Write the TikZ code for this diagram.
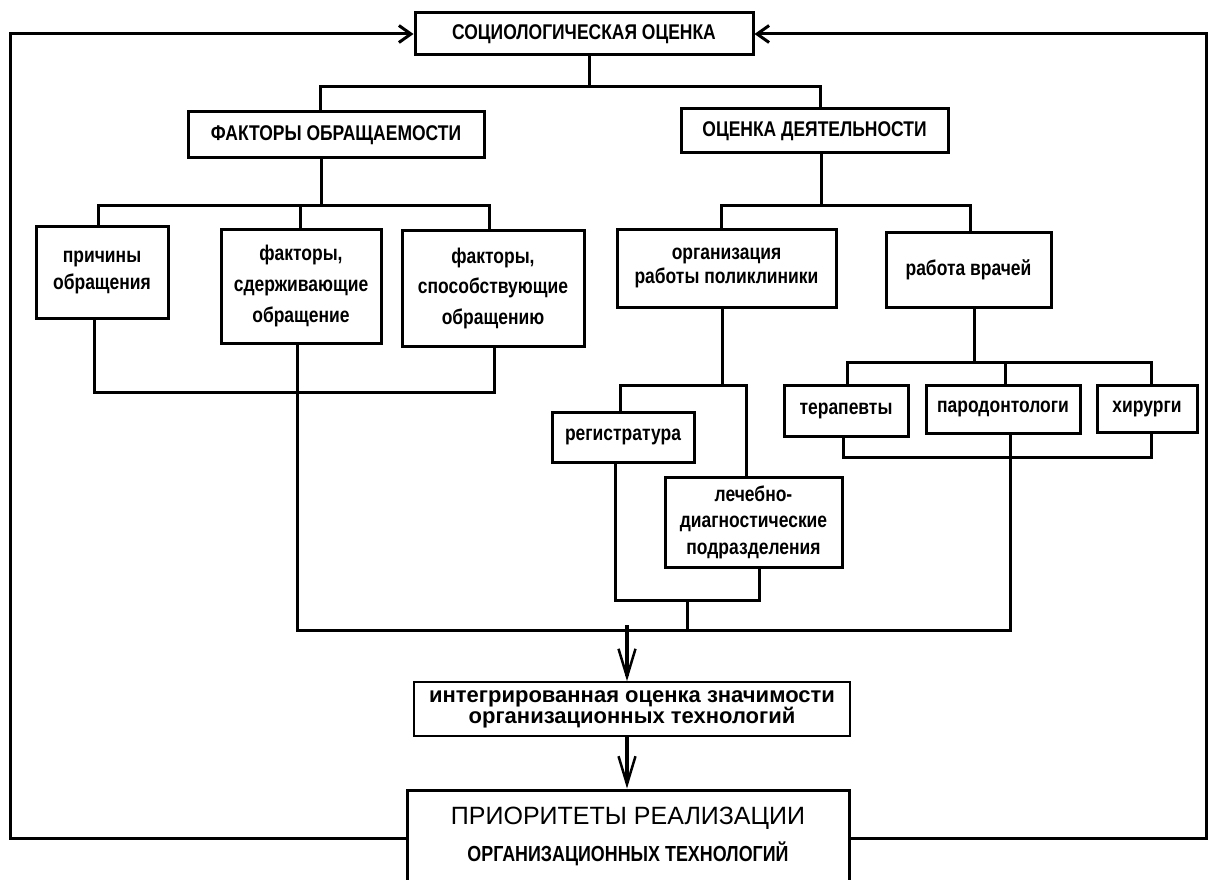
\documentclass[tikz,border=0pt]{standalone}
\usepackage{fontspec}
\setmainfont{Liberation Sans}
\newfontfamily\narrowfont[FakeStretch=0.82]{Liberation Sans}
\usetikzlibrary{arrows.meta}
\tikzset{
  bx/.style={draw, line width=3pt, inner sep=0pt, align=center,
    font=\narrowfont\bfseries\fontsize{21.3}{24}\selectfont},
  conn/.style={line width=3pt, line cap=rect},
  fbk/.style={line width=3pt, -{Straight Barb[length=12pt,width=17pt,line width=3pt]}},
  bigarr/.style={line width=4.5pt, -{Straight Barb[length=28pt,width=17pt,line width=2.5pt]}}
}
\begin{document}
\begin{tikzpicture}[x=1pt,y=-1pt]
\fill[white] (0,0) rectangle (1208,880);
\useasboundingbox (0,0) rectangle (1208,880);

% boxes
\node[bx, minimum width=338pt, minimum height=42pt] (top) at (584,34) {СОЦИОЛОГИЧЕСКАЯ ОЦЕНКА};
\node[bx, minimum width=296pt, minimum height=46pt] (fo) at (336,135) {ФАКТОРЫ ОБРАЩАЕМОСТИ};
\node[bx, minimum width=267pt, minimum height=44pt] (od) at (814.5,131) {ОЦЕНКА ДЕЯТЕЛЬНОСТИ};

\node[bx, minimum width=132pt, minimum height=92pt, font=\narrowfont\bfseries\fontsize{21.3}{27}\selectfont] (c1) at (102,272) {причины\\обращения};
\node[bx, minimum width=160pt, minimum height=114pt, font=\narrowfont\bfseries\fontsize{21.3}{31}\selectfont] (c2) at (301,286) {факторы,\\сдерживающие\\обращение};
\node[bx, minimum width=182pt, minimum height=116pt, font=\narrowfont\bfseries\fontsize{21.3}{30.5}\selectfont] (c3) at (493,288) {факторы,\\способствующие\\обращению};

\node[bx, minimum width=219pt, minimum height=78pt, font=\narrowfont\bfseries\fontsize{21.3}{24}\selectfont] (oa) at (726.5,268) {организация\\работы поликлиники};
\node[bx, minimum width=165pt, minimum height=75pt] (rv) at (968.5,269.5) {работа врачей};

\node[bx, minimum width=142pt, minimum height=50pt] (reg) at (623,437) {регистратура};
\node[bx, minimum width=177pt, minimum height=90pt, font=\narrowfont\bfseries\fontsize{21.3}{26.5}\selectfont] (led) at (753.5,522) {лечебно-\\диагностические\\подразделения};

\node[bx, minimum width=124pt, minimum height=51pt] (ter) at (846,410.5) {терапевты};
\node[bx, minimum width=154pt, minimum height=48pt] (pd) at (1003,409) {пародонтологи};
\node[bx, minimum width=100pt, minimum height=47pt] (hir) at (1147,408.5) {хирурги};

\node[bx, line width=1.8pt, minimum width=436pt, minimum height=54pt, font=\bfseries\fontsize{22}{21}\selectfont] (int) at (632,709) {интегрированная оценка значимости\\организационных технологий};
\node[bx, minimum width=442pt, minimum height=93pt, font=\narrowfont\bfseries\fontsize{21.8}{37}\selectfont] (pri) at (628,836.5) {{\normalfont\fontsize{25}{37}\selectfont ПРИОРИТЕТЫ РЕАЛИЗАЦИИ}\\ОРГАНИЗАЦИОННЫХ ТЕХНОЛОГИЙ};

% coordinates of buses
\coordinate (tb) at (589,87);
\coordinate (tbL) at (320,87);
\coordinate (tbR) at (820,87);
\coordinate (fb) at (321,205);
\coordinate (fbL) at (98,205);
\coordinate (fbM) at (300,205);
\coordinate (fbR) at (489,205);
\coordinate (cbL) at (94,392);
\coordinate (cbR) at (494,392);
\coordinate (colL) at (297,630);
\coordinate (colR) at (1010,630);
\coordinate (ob) at (821,205);
\coordinate (obL) at (721,205);
\coordinate (obR) at (970,205);
\coordinate (oab) at (722,385);
\coordinate (oabL) at (620,385);
\coordinate (oabR) at (746,385);
\coordinate (rlL) at (615,600);
\coordinate (rlM) at (687,600);
\coordinate (rlR) at (759,600);
\coordinate (rvb) at (974,362);
\coordinate (dL) at (847,362);
\coordinate (dM) at (1005,362);
\coordinate (dR) at (1151,362);
\coordinate (dbL) at (843,457);
\coordinate (dbR) at (1151,457);
\coordinate (arrTop) at (627,625);
\coordinate (fbkL) at (10,838);
\coordinate (fbkLt) at (10,34);
\coordinate (fbkR) at (1206,838);
\coordinate (fbkRt) at (1206,34);

% connectors
\draw[conn] (top.south -| tb) -- (tb);
\draw[conn] (fo.north -| tbL) -- (tbL) -- (tbR) -- (od.north -| tbR);
\draw[conn] (fo.south -| fb) -- (fb);
\draw[conn] (c1.north -| fbL) -- (fbL) -- (fbR) -- (c3.north -| fbR);
\draw[conn] (fbM) -- (c2.north -| fbM);
\draw[conn] (c1.south -| cbL) -- (cbL) -- (cbR) -- (c3.south -| cbR);
\draw[conn] (c2.south -| colL) -- (colL) -- (colR) -- (pd.south -| colR);
\draw[conn] (od.south -| ob) -- (ob);
\draw[conn] (oa.north -| obL) -- (obL) -- (obR) -- (rv.north -| obR);
\draw[conn] (oa.south -| oab) -- (oab);
\draw[conn] (reg.north -| oabL) -- (oabL) -- (oabR) -- (led.north -| oabR);
\draw[conn] (reg.south -| rlL) -- (rlL) -- (rlR) -- (led.south -| rlR);
\draw[conn] (rlM) -- (rlM |- colL);
\draw[conn] (rv.south -| rvb) -- (rvb);
\draw[conn] (ter.north -| dL) -- (dL) -- (dR) -- (hir.north -| dR);
\draw[conn] (dM) -- (pd.north -| dM);
\draw[conn] (ter.south -| dbL) -- (dbL) -- (dbR) -- (hir.south -| dbR);

\draw[bigarr] (arrTop) -- (int.north -| arrTop);
\draw[bigarr] (int.south -| arrTop) -- (pri.north -| arrTop);

\draw[fbk] (pri.west |- fbkL) -- (fbkL) -- (fbkLt) -- (top.west |- fbkLt);
\draw[fbk] (pri.east |- fbkR) -- (fbkR) -- (fbkRt) -- (top.east |- fbkRt);
\end{tikzpicture}
\end{document}
